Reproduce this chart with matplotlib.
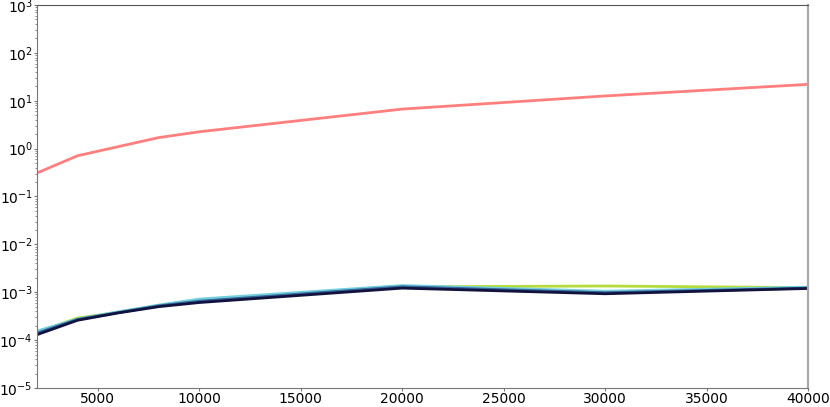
import matplotlib
matplotlib.use("Agg")
import matplotlib.pyplot as plt

# Number of elements on the abscissa
sizes = [2000, 4000, 6000, 8000, 10000, 20000, 30000, 40000]

# Top series (far above the others)
red_series = [0.31, 0.71, 1.1, 1.7, 2.25, 6.7, 12.6, 22.0]

# Bottom cluster of series around 1e-3
green_series = [1.45e-4, 2.9e-4, 3.8e-4, 5.3e-4, 7.0e-4, 1.30e-3, 1.35e-3, 1.25e-3]
cyan_series = [1.55e-4, 2.75e-4, 3.9e-4, 5.4e-4, 7.2e-4, 1.38e-3, 1.05e-3, 1.28e-3]
blue_series = [1.40e-4, 2.7e-4, 3.75e-4, 5.2e-4, 6.5e-4, 1.30e-3, 0.98e-3, 1.22e-3]
navy_series = [1.30e-4, 2.6e-4, 3.7e-4, 5.0e-4, 6.1e-4, 1.22e-3, 0.93e-3, 1.20e-3]


def plot():
    fig = plt.figure(figsize=(8.3, 4.07), dpi=100)
    ax = fig.add_axes([0.0446, 0.0467, 0.929, 0.941])

    ax.plot(sizes, red_series, color="red", alpha=0.5, linewidth=2)
    ax.plot(sizes, green_series, color="#b5dc3c", linewidth=2)
    ax.plot(sizes, cyan_series, color="#74d0dc", linewidth=2)
    ax.plot(sizes, blue_series, color="#35689c", linewidth=2)
    ax.plot(sizes, navy_series, color="#12123f", linewidth=2)

    ax.set_yscale("log")
    ax.set_xlim(2000, 40000)
    ax.set_ylim(1e-5, 1e3)
    ax.set_xticks([5000, 10000, 15000, 20000, 25000, 30000, 35000, 40000])

    # Grey frame and short ticks as in the reference
    for side, spine in ax.spines.items():
        spine.set_color("#777777")
    ax.spines["top"].set_color("#555555")
    ax.spines["right"].set_color("#aaaaaa")
    ax.spines["right"].set_linewidth(1.6)
    ax.tick_params(which="both", colors="#777777", labelcolor="black", labelsize=10, pad=1)
    ax.tick_params(which="major", length=2)
    ax.tick_params(which="minor", length=1.5)

    fig.savefig("out.png", dpi=100)


if __name__ == "__main__":
    plot()
